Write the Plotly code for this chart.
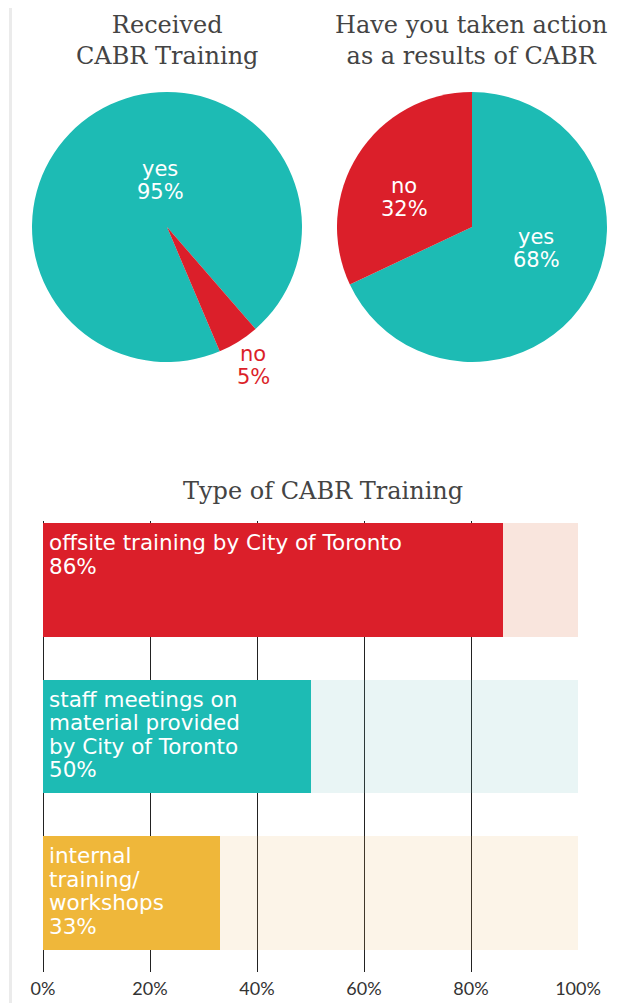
import plotly.graph_objects as go

W, H = 634, 1003
OFF = 8  # page body margin in the browser; positions below are page pixels

# ---------------- data ----------------
pie1_title = "Received<br>CABR Training"
pie1_labels = ["yes", "no"]
pie1_values = [95, 5]

pie2_title = "Have you taken action<br>as a results of CABR"
pie2_labels = ["yes", "no"]
pie2_values = [68, 32]

bar_title = "Type of CABR Training"
bar_categories = [
    "offsite training by City of Toronto",
    "staff meetings on<br>material provided<br>by City of Toronto",
    "internal<br>training/<br>workshops",
]
bar_values = [86, 50, 33]
bar_full = [100, 100, 100]
tick_values = [0, 20, 40, 60, 80, 100]
tick_labels = ["0%", "20%", "40%", "60%", "80%", "100%"]

# ---------------- styles ----------------
TEAL = "#1DBBB4"
RED = "#DB1F2A"
YELLOW = "#EFB73A"
bar_colors = [RED, TEAL, YELLOW]
bar_pale = ["rgba(215,82,28,0.15)", "rgba(108,188,188,0.15)", "rgba(235,182,102,0.15)"]
pie_colors = {"yes": TEAL, "no": RED}
LABEL_FONT = "DejaVu Sans"
TITLE_FONT = "DejaVu Serif"


def px(x):
    return (x - OFF) / W


def py(y):
    return 1 - (y - OFF) / H


fig = go.Figure()

# pies
fig.add_trace(go.Pie(
    labels=pie1_labels, values=pie1_values, sort=False, direction="clockwise",
    rotation=157, marker=dict(colors=[pie_colors[l] for l in pie1_labels], line=dict(width=0)),
    textinfo="none", hoverinfo="label+percent", showlegend=False,
    domain=dict(x=[px(32), px(302)], y=[py(362), py(92)]),
))
fig.add_trace(go.Pie(
    labels=pie2_labels, values=pie2_values, sort=False, direction="clockwise",
    rotation=0, marker=dict(colors=[pie_colors[l] for l in pie2_labels], line=dict(width=0)),
    textinfo="none", hoverinfo="label+percent", showlegend=False,
    domain=dict(x=[px(337), px(607)], y=[py(362), py(92)]),
))

# bars: pale full-scale background, then value bars
fig.add_trace(go.Bar(
    x=bar_full, y=list(range(len(bar_categories))), orientation="h",
    marker=dict(color=bar_pale, line=dict(width=0)), width=0.728,
    hoverinfo="skip", showlegend=False, xaxis="x", yaxis="y",
))
fig.add_trace(go.Bar(
    x=bar_values, y=list(range(len(bar_categories))), orientation="h",
    marker=dict(color=bar_colors, line=dict(width=0)), width=0.728,
    hovertext=bar_categories, hoverinfo="text+x", showlegend=False, xaxis="x", yaxis="y",
))

annotations = []


def add_lines(lines, x, baseline0, size, color, spacing=23, xanchor="center",
              xref="paper", yref="paper", yval=None, yshift0=None, xshift=0):
    for k, line in enumerate(lines):
        if yval is None:
            yc = baseline0 + spacing * k - 0.345 * size
            annotations.append(dict(
                text=line, x=px(x), y=py(yc), xref="paper", yref="paper",
                xanchor=xanchor, yanchor="middle", showarrow=False, borderpad=0,
                font=dict(family=LABEL_FONT, size=size, color=color)))
        else:
            annotations.append(dict(
                text=line, x=x, y=yval, xref=xref, yref=yref, xshift=xshift,
                yshift=yshift0 - spacing * k, borderpad=0,
                xanchor=xanchor, yanchor="middle", showarrow=False,
                font=dict(family=LABEL_FONT, size=size, color=color)))


# pie labels
add_lines([pie1_labels[0], f"{pie1_values[0]}%"], 160, 176, 21, "white")
add_lines([pie1_labels[1], f"{pie1_values[1]}%"], 253, 361, 21, RED)
add_lines([pie2_labels[1], f"{pie2_values[1]}%"], 404, 193, 21, "white")
add_lines([pie2_labels[0], f"{pie2_values[0]}%"], 536, 244, 21, "white")

# bar labels (top-left inside each bar)
for i, (cat, v) in enumerate(zip(bar_categories, bar_values)):
    lines = cat.split("<br>") + [f"{v}%"]
    add_lines(lines, 0, None, 21.5, "white", spacing=23.5, xanchor="left", xref="x",
              yref="y", yval=i, yshift0=37.4, xshift=5)

# titles
title_font = dict(family=TITLE_FONT, size=24, color="#444444")
annotations.append(dict(text=pie1_title, x=px(167), y=py(40), xref="paper", yref="paper",
                        xanchor="center", yanchor="middle", showarrow=False, font=title_font))
annotations.append(dict(text=pie2_title, x=px(471), y=py(40), xref="paper", yref="paper",
                        xanchor="center", yanchor="middle", showarrow=False, font=title_font))
annotations.append(dict(text=bar_title, x=px(323), y=py(491), xref="paper", yref="paper",
                        xanchor="center", yanchor="middle", showarrow=False, font=title_font))

fig.update_layout(
    width=W, height=H, autosize=False,
    margin=dict(l=0, r=0, t=0, b=0, pad=0, autoexpand=False),
    paper_bgcolor="white", plot_bgcolor="rgba(0,0,0,0)",
    barmode="overlay", bargap=0,
    xaxis=dict(domain=[px(43), px(578)], range=[0, 100], tickvals=tick_values,
               ticktext=tick_labels, showgrid=True, gridcolor="#222222", gridwidth=1,
               zeroline=True, zerolinecolor="#222222", zerolinewidth=1, showline=False,
               ticks="", ticklabelstandoff=4, anchor="y", fixedrange=True, automargin=False,
               tickfont=dict(family="Lato", size=18, color="#333333")),
    yaxis=dict(domain=[py(972), py(521)], range=[2.505, -0.377], showgrid=False,
               zeroline=False, showticklabels=False, showline=False, ticks="",
               anchor="x", fixedrange=True, automargin=False),
    annotations=annotations,
    shapes=[
        dict(type="line", xref="paper", yref="paper", x0=px(10.5), x1=px(10.5), y0=0, y1=1,
             line=dict(color="#EBEBEB", width=3), layer="below"),
        dict(type="line", xref="paper", yref="paper", x0=px(632.5), x1=px(632.5), y0=0, y1=1,
             line=dict(color="#EBEBEB", width=3), layer="below"),
    ],
)

fig.write_html("out.html")
